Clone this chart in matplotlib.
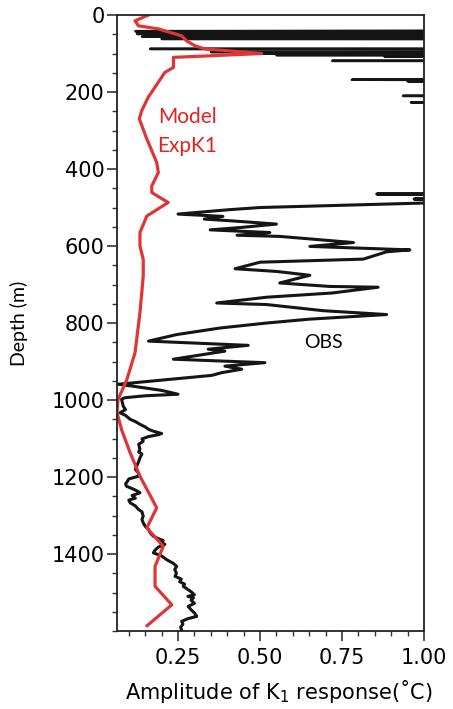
import matplotlib
matplotlib.use('Agg')
import matplotlib.pyplot as plt
from matplotlib.ticker import MultipleLocator

# model ExpK1 (red)
model_depth = [0, 15, 28, 36, 54, 67, 80, 88, 100, 110, 136, 149, 214, 249, 270,
               322, 383, 409, 444, 461, 487, 522, 565, 600, 635, 678, 773, 877,
               947, 999, 1033, 1077, 1137, 1198, 1280, 1332, 1380, 1432, 1484,
               1532, 1586]
model_amp = [0.16, 0.119, 0.129, 0.19, 0.261, 0.276, 0.302, 0.332, 0.505, 0.236,
             0.236, 0.21, 0.159, 0.139, 0.132, 0.155, 0.185, 0.19, 0.17, 0.17,
             0.22, 0.155, 0.134, 0.134, 0.144, 0.144, 0.134, 0.119, 0.094, 0.067,
             0.064, 0.078, 0.104, 0.134, 0.185, 0.155, 0.205, 0.18, 0.18, 0.231,
             0.156]

# observed (black), values above 1 run off the axes
obs_depth = [40, 42, 43, 48, 49, 50, 55, 56, 57, 61, 62, 63, 87, 88, 89, 95,
             96, 97, 99, 100, 101, 103, 104, 105, 107, 108, 109, 118, 119, 120,
             166, 168, 170, 172, 174, 209, 210, 211, 226, 227, 228, 463, 465,
             467, 476, 478, 480, 486, 500, 506, 517, 520, 523, 530, 535, 543,
             552, 558, 565, 572, 575, 591, 601, 610, 615, 634, 642, 659, 666,
             676, 696, 705, 707, 722, 733, 748, 752, 768, 778, 790, 800, 813,
             830, 847, 852, 858, 868, 873, 894, 903, 912, 920, 929, 936, 959,
             965, 975, 985, 989, 994, 998, 1005, 1016, 1025, 1033, 1040, 1050,
             1056, 1063, 1070, 1076, 1081, 1087, 1090, 1095, 1101, 1107, 1115,
             1128, 1135, 1140, 1150, 1160, 1172, 1180, 1190, 1198, 1205, 1212,
             1218, 1224, 1230, 1236, 1241, 1248, 1255, 1260, 1267, 1275, 1284,
             1290, 1302, 1310, 1319, 1328, 1336, 1345, 1354, 1360, 1365, 1370,
             1375, 1382, 1390, 1397, 1405, 1415, 1424, 1432, 1440, 1450, 1458,
             1465, 1472, 1478, 1484, 1492, 1498, 1506, 1510, 1514, 1520, 1528,
             1536, 1545, 1553, 1562, 1568, 1575, 1582, 1590, 1600]
obs_amp = [1.6, 0.12, 1.6, 1.6, 0.125, 1.6, 1.6, 0.14, 1.6, 1.6, 0.2, 1.6,
           1.6, 0.165, 1.6, 1.6, 0.35, 1.6, 1.6, 0.5, 1.6, 1.6, 0.55, 1.6, 1.6,
           0.88, 1.6, 1.6, 0.72, 1.6, 1.6, 0.78, 1.6, 0.95, 1.6, 1.6, 0.936,
           1.6, 1.6, 0.96, 1.6, 1.6, 0.856, 1.6, 1.6, 0.97, 1.6, 1.1, 0.5, 0.4,
           0.25, 0.317, 0.387, 0.33, 0.42, 0.55, 0.44, 0.348, 0.53, 0.43, 0.56,
           0.785, 0.652, 0.957, 0.886, 0.815, 0.5, 0.424, 0.55, 0.652, 0.56,
           0.713, 0.86, 0.72, 0.52, 0.368, 0.52, 0.693, 0.886, 0.65, 0.52,
           0.378, 0.246, 0.16, 0.3, 0.464, 0.342, 0.393, 0.236, 0.515, 0.393,
           0.444, 0.383, 0.353, 0.068, 0.12, 0.2, 0.25, 0.15, 0.088, 0.078, 0.08,
           0.083, 0.09, 0.073, 0.09, 0.104, 0.12, 0.134, 0.15, 0.16, 0.175, 0.2,
           0.19, 0.16, 0.14, 0.144, 0.13, 0.134, 0.13, 0.14, 0.134, 0.13, 0.124,
           0.12, 0.13, 0.129, 0.1, 0.095, 0.09, 0.093, 0.11, 0.125, 0.134, 0.11,
           0.12, 0.1, 0.104, 0.12, 0.129, 0.14, 0.144, 0.14, 0.144, 0.15, 0.16,
           0.165, 0.175, 0.19, 0.205, 0.2, 0.21, 0.19, 0.18, 0.175, 0.2, 0.216,
           0.235, 0.246, 0.24, 0.245, 0.241, 0.26, 0.255, 0.27, 0.266, 0.28,
           0.29, 0.3, 0.28, 0.297, 0.29, 0.3, 0.281, 0.29, 0.3, 0.307, 0.28,
           0.261, 0.265, 0.258, 0.262]

fig = plt.figure(figsize=(4.53, 7.09), dpi=100)
ax = fig.add_axes([0.2583, 0.1100, 0.6777, 0.8688])

# shallow spikes look thinner in the original
n_top = 41
ax.plot(obs_amp[:n_top + 1], obs_depth[:n_top + 1], c='#151515', lw=1.8)
ax.plot(obs_amp[n_top:], obs_depth[n_top:], c='#151515', lw=2.2,
        solid_joinstyle='round')
ax.plot(model_amp, model_depth, c='#e03535', lw=2.3)

ax.set_xlim(0.064, 1.0)
ax.set_ylim(1600, 0)
ax.set_xticks([0.25, 0.5, 0.75, 1.0])
ax.set_xticklabels(['0.25', '0.50', '0.75', '1.00'])
ax.set_yticks([0, 200, 400, 600, 800, 1000, 1200, 1400])
ax.xaxis.set_minor_locator(MultipleLocator(0.05))
ax.yaxis.set_minor_locator(MultipleLocator(50))
ax.tick_params(which='major', length=7, width=1.2, labelsize=15, color='#333333')
ax.tick_params(which='minor', length=3.5, width=1.0, color='#333333')
ax.tick_params(axis='y', pad=2)
ax.tick_params(axis='x', pad=5)
for s in ax.spines.values():
    s.set_linewidth(1.3)
    s.set_color('#222222')

ax.set_ylabel('Depth (m)', family='Lato', fontsize=14)
ax.yaxis.set_label_coords(-0.29, 0.5)
ax.set_xlabel('Amplitude of K$_1$ response(˚C)', fontsize=15)
ax.xaxis.set_label_coords(0.528, -0.077)

ax.text(0.228, 0.811, 'Model\nExpK1', transform=ax.transAxes, color='#e52222',
        family='Lato', fontsize=15, linespacing=1.55, ha='center', va='center')
ax.text(0.671, 0.468, 'OBS', transform=ax.transAxes, color='black',
        family='Lato', fontsize=14, ha='center', va='center')

fig.savefig('out.png', dpi=100)
